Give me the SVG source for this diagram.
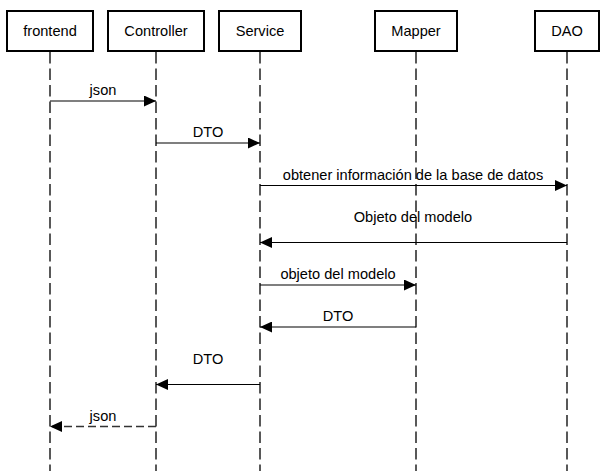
<svg xmlns="http://www.w3.org/2000/svg" width="607" height="471" viewBox="0 0 607 471">
<style>
.box{fill:#fff;stroke:#000;stroke-width:2}
.life{stroke:#222;stroke-width:1.5;stroke-dasharray:11.5 5;fill:none}
.msg{stroke:#000;stroke-width:1.2;fill:none}
.dash{stroke:#333;stroke-width:1.5;stroke-dasharray:8 4}
text{font-family:"Liberation Sans",Arial,sans-serif;font-size:14.6px;fill:#000;text-anchor:middle}
</style>
<defs>
<marker id="ah" viewBox="0 0 12 11" refX="12" refY="5.5" markerWidth="12" markerHeight="11" markerUnits="userSpaceOnUse" orient="auto">
<path d="M0,0 L12,5.5 L0,11 Z" fill="#000"/>
</marker>
</defs>
<g id="connectors">
<line class="life" x1="50" y1="52" x2="50" y2="471"/>
<line class="life" x1="156" y1="52" x2="156" y2="471"/>
<line class="life" x1="260" y1="52" x2="260" y2="471"/>
<line class="life" x1="416" y1="52" x2="416" y2="471"/>
<line class="life" x1="567" y1="52" x2="567" y2="471"/>
<line class="msg" x1="50" y1="101" x2="156" y2="101" marker-end="url(#ah)"/>
<text x="103" y="95">json</text>
<line class="msg" x1="156" y1="143" x2="260" y2="143" marker-end="url(#ah)"/>
<text x="208" y="137">DTO</text>
<line class="msg" x1="260" y1="185.5" x2="567" y2="185.5" marker-end="url(#ah)"/>
<text x="413" y="180">obtener información de la base de datos</text>
<line class="msg" x1="567" y1="242.5" x2="260" y2="242.5" marker-end="url(#ah)"/>
<text x="413" y="222">Objeto del modelo</text>
<line class="msg" x1="260" y1="285" x2="416" y2="285" marker-end="url(#ah)"/>
<text x="338" y="279">objeto del modelo</text>
<line class="msg" x1="416" y1="327" x2="260" y2="327" marker-end="url(#ah)"/>
<text x="338" y="321">DTO</text>
<line class="msg" x1="260" y1="384.5" x2="156" y2="384.5" marker-end="url(#ah)"/>
<text x="208" y="364">DTO</text>
<line class="msg dash" x1="156" y1="426.5" x2="50" y2="426.5" marker-end="url(#ah)"/>
<text x="103" y="421">json</text>
</g>
<g id="frontend"><rect class="box" x="7" y="11" width="86" height="40"/><text x="50" y="36">frontend</text></g>
<g id="controller"><rect class="box" x="108" y="11" width="96" height="40"/><text x="156" y="36">Controller</text></g>
<g id="service"><rect class="box" x="219" y="11" width="82" height="40"/><text x="260" y="36">Service</text></g>
<g id="mapper"><rect class="box" x="375" y="11" width="82" height="40"/><text x="416" y="36">Mapper</text></g>
<g id="dao"><rect class="box" x="535" y="11" width="64" height="40"/><text x="567" y="36">DAO</text></g>
</svg>
